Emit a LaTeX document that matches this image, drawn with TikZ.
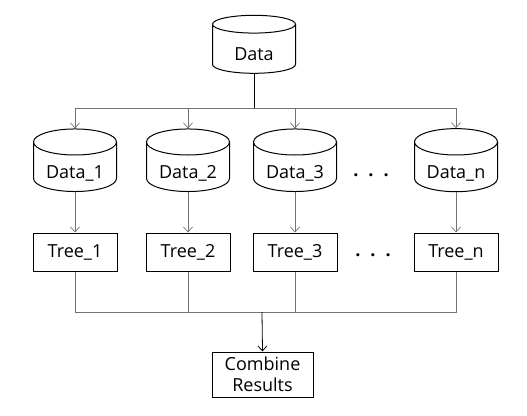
\documentclass[tikz,border=0pt]{standalone}
\usepackage{fontspec}
\setmainfont{Open Sans}
\usetikzlibrary{shapes.geometric,arrows.meta}
\begin{document}
\begin{tikzpicture}[x=1pt,y=-1pt,>={Straight Barb[length=5pt,width=9pt]},font=\fontsize{18}{21}\selectfont]
\tikzset{db/.style={cylinder,shape border rotate=90,draw,line width=1pt,aspect=0.45,minimum width=83pt,minimum height=58pt,inner sep=0pt,text height=23pt,text depth=0pt},
tbox/.style={rectangle,draw,line width=1pt,minimum width=84pt,minimum height=38pt,inner sep=0pt},
conn/.style={draw=black!55,line width=0.7pt}}
\useasboundingbox (0,0) rectangle (527,415);
\node[db] (data) at (254,49) {Data};
\foreach \n/\x in {1/75,2/188,3/295,n/456}{
\node[db] (d\n) at (\x,167) {Data\_\n};
\node[tbox] (t\n) at (\x,252) {Tree\_\n};
}
\node (ddots) at (371,175) {\textbf{.\hspace{10pt}.\hspace{10pt}.}};
\node (tdots) at (373,255) {\textbf{.\hspace{10pt}.\hspace{10pt}.}};
\node[tbox,minimum width=101pt,minimum height=45pt,align=center] (comb) at (262.5,374.5) {Combine\\Results};
\coordinate (split) at (254,108);
\coordinate (merge) at (262,312);
\draw[line width=0.8pt] (data.south) -- (split);
\foreach \n in {1,2,3,n}{
\draw[conn,->] (split) -| (d\n.north);
\draw[conn,->] (d\n.south) -- (t\n.north);
\draw[conn] (t\n.south) |- (merge);
}
\draw[line width=0.8pt,->] (merge) -- (comb.north);
\end{tikzpicture}
\end{document}
